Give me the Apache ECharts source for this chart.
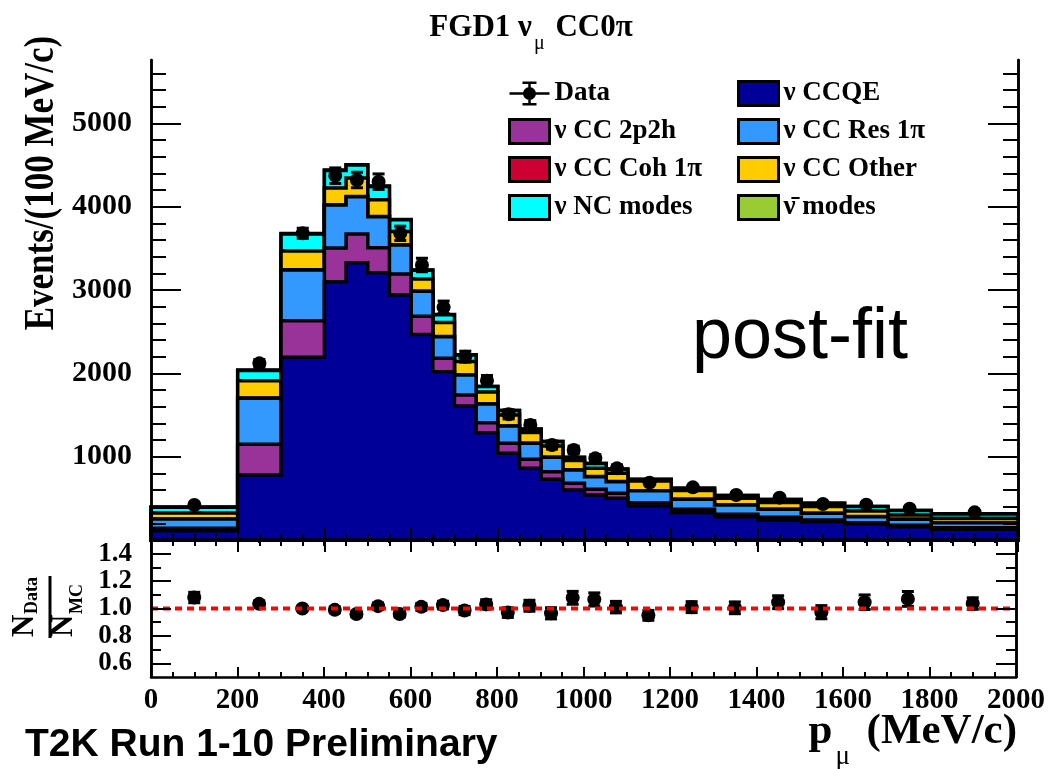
<!DOCTYPE html>
<html>
<head>
<meta charset="utf-8">
<script src="https://cdn.jsdelivr.net/npm/echarts@6/dist/echarts.min.js"></script>
<style>
  html, body { margin: 0; padding: 0; background: #fff; }
  #chart { width: 1048px; height: 769px; }
</style>
</head>
<body>
<div id="chart"></div>
<script>
// bin edges and centres of p_mu (MeV/c)
const binEdges = [0, 200, 300, 400, 450, 500, 550, 600, 650, 700, 750, 800, 850, 900, 950, 1000, 1050, 1100, 1200, 1300, 1400, 1500, 1600, 1700, 1800, 2000];
const binCenters = [100, 250, 350, 425, 475, 525, 575, 625, 675, 725, 775, 825, 875, 925, 975, 1025, 1075, 1150, 1250, 1350, 1450, 1550, 1650, 1750, 1900];

// MC components, events / (100 MeV/c)
const ccqe    = [112, 780, 2192, 3100, 3328, 3208, 2940, 2466, 2020, 1608, 1288, 1040, 860, 728, 600, 540, 500, 408, 328, 280, 240, 220, 192, 160, 128];
const cc2p2h  = [28, 368, 440, 404, 344, 300, 252, 218, 160, 132, 120, 120, 108, 92, 80, 68, 60, 40, 40, 28, 32, 20, 16, 16, 20];
const ccRes   = [112, 552, 608, 516, 448, 372, 348, 300, 260, 240, 224, 208, 192, 172, 160, 152, 140, 142, 120, 112, 96, 80, 72, 72, 60];
const ccCoh   = [1, 3, 4, 3, 3, 3, 2, 2, 2, 1, 1, 1, 1, 1, 1, 1, 1, 1, 1, 1, 1, 1, 1, 1, 1];
const ccOther = [72, 208, 224, 200, 220, 200, 160, 146, 168, 160, 144, 132, 128, 136, 112, 100, 100, 116, 104, 80, 80, 80, 68, 52, 52];
const ncModes = [68, 124, 204, 212, 156, 160, 140, 106, 92, 80, 64, 52, 40, 52, 38, 56, 48, 20, 28, 32, 36, 40, 52, 52, 52];
const antiNu  = [2, 4, 5, 5, 5, 4, 4, 3, 3, 2, 2, 2, 2, 2, 2, 2, 2, 1, 1, 1, 1, 1, 1, 1, 1];

// data and its errors
const dataVals = [420, 2120, 3680, 4372, 4320, 4300, 3680, 3300, 2792, 2200, 1912, 1508, 1380, 1140, 1080, 980, 860, 688, 632, 540, 508, 432, 424, 376, 332];
const dataErrs = [15, 46, 61, 93, 93, 93, 86, 81, 75, 66, 62, 55, 53, 48, 46, 44, 41, 26, 25, 23, 23, 21, 21, 19, 13];

// ratio panel
const ratioVals = [1.08, 1.034, 1.0, 0.99, 0.96, 1.017, 0.96, 1.012, 1.025, 0.985, 1.03, 0.97, 1.02, 0.965, 1.078, 1.066, 1.01, 0.95, 1.01, 1.005, 1.046, 0.973, 1.046, 1.07, 1.036];
const ratioErrs = [0.038, 0.022, 0.017, 0.021, 0.021, 0.022, 0.022, 0.025, 0.028, 0.03, 0.034, 0.035, 0.04, 0.041, 0.047, 0.048, 0.042, 0.036, 0.04, 0.043, 0.047, 0.048, 0.053, 0.054, 0.042];
const unityLine = [[0, 1], [2000, 1]];

// axis ticks
const xMax = 2000;
const yTopMax = 5760;
const yTopMajor = [0, 1000, 2000, 3000, 4000, 5000];
const yTopLabels = [1000, 2000, 3000, 4000, 5000];
const yTopMinor = [200, 400, 600, 800, 1200, 1400, 1600, 1800, 2200, 2400, 2600, 2800, 3200, 3400, 3600, 3800, 4200, 4400, 4600, 4800, 5200, 5400, 5600];
const yRatioMajor = [0.6, 0.8, 1.0, 1.2, 1.4];
const yRatioMinor = [0.7, 0.9, 1.1, 1.3];

const layers = [
  { name: 'ν CCQE', color: '#000099', vals: ccqe },
  { name: 'ν CC 2p2h', color: '#993399', vals: cc2p2h },
  { name: 'ν CC Res 1π', color: '#3399ff', vals: ccRes },
  { name: 'ν CC Coh 1π', color: '#cc0033', vals: ccCoh },
  { name: 'ν CC Other', color: '#ffcc00', vals: ccOther },
  { name: 'ν NC modes', color: '#00ffff', vals: ncModes },
  { name: 'ν̄ modes', color: '#99cc33', vals: antiNu }
];

// stack them up
let running = binCenters.map(() => 0);
layers.forEach(l => {
  running = running.map((r, i) => r + l.vals[i]);
  l.cum = running.slice();
});

const serif = 'Liberation Serif';

function stepRender(cum, color) {
  return function (params, api) {
    const pts = [api.coord([binEdges[0], 0])];
    for (let i = 0; i < cum.length; i++) {
      pts.push(api.coord([binEdges[i], cum[i]]));
      pts.push(api.coord([binEdges[i + 1], cum[i]]));
    }
    pts.push(api.coord([binEdges[binEdges.length - 1], 0]));
    return {
      type: 'polygon',
      shape: { points: pts },
      style: { fill: color, stroke: '#000', lineWidth: 3.5, lineJoin: 'miter' }
    };
  };
}

function errRender(params, api) {
  const x = api.value(0), v = api.value(1), e = api.value(2);
  const top = api.coord([x, v + e]);
  const bot = api.coord([x, v - e]);
  const st = { stroke: '#000', lineWidth: 3 };
  return {
    type: 'group',
    children: [
      { type: 'line', shape: { x1: top[0], y1: top[1], x2: bot[0], y2: bot[1] }, style: st },
      { type: 'line', shape: { x1: top[0] - 6, y1: top[1], x2: top[0] + 6, y2: top[1] }, style: st },
      { type: 'line', shape: { x1: bot[0] - 6, y1: bot[1], x2: bot[0] + 6, y2: bot[1] }, style: st }
    ]
  };
}

const tickLine = { color: '#000', width: 2 };
const frameLine = { show: true, lineStyle: { color: '#000', width: 2.5 } };

function xAx(grid, pos, labels, len, minorLen) {
  return {
    type: 'value', gridIndex: grid, position: pos, min: 0, max: xMax, interval: 200, z: 10,
    axisLine: frameLine,
    axisTick: { show: true, inside: true, length: len, lineStyle: tickLine },
    minorTick: { show: true, splitNumber: 4, length: minorLen, lineStyle: tickLine },
    splitLine: { show: false },
    axisLabel: labels ? {
      show: true, margin: 9, color: '#000', fontFamily: serif, fontWeight: 'bold', fontSize: 29,
      formatter: v => String(v)
    } : { show: false }
  };
}

function yAx(grid, pos, min, max, ticks, len, labels, fontSize) {
  return {
    type: 'value', gridIndex: grid, position: pos, min: min, max: max, z: 10, offset: 0,
    axisLine: frameLine,
    axisTick: { show: true, inside: true, length: len, customValues: ticks, lineStyle: tickLine },
    splitLine: { show: false },
    axisLabel: labels ? {
      show: true, customValues: labels, margin: 19, color: '#000',
      fontFamily: serif, fontWeight: 'bold', fontSize: fontSize,
      formatter: v => max > 10 ? String(Math.round(v)) : v.toFixed(1)
    } : { show: false }
  };
}

const series = [];
// draw the tallest stack first
for (let k = layers.length - 1; k >= 0; k--) {
  const l = layers[k];
  series.push({
    name: l.name, type: 'custom', xAxisIndex: 0, yAxisIndex: 0,
    itemStyle: { color: l.color },
    renderItem: stepRender(l.cum, l.color),
    data: [0]
  });
}
series.push({
  name: 'dataErr', type: 'custom', xAxisIndex: 0, yAxisIndex: 0,
  renderItem: errRender,
  data: binCenters.map((x, i) => [x, dataVals[i], dataErrs[i]])
});
series.push({
  name: 'Data', type: 'scatter', xAxisIndex: 0, yAxisIndex: 0,
  symbolSize: 14, itemStyle: { color: '#000', opacity: 1 },
  data: binCenters.map((x, i) => [x, dataVals[i]])
});
series.push({
  name: 'unity', type: 'line', xAxisIndex: 2, yAxisIndex: 6,
  symbol: 'none', lineStyle: { color: '#ff0000', width: 4, type: [7, 5] },
  data: unityLine
});
series.push({
  name: 'ratioErr', type: 'custom', xAxisIndex: 2, yAxisIndex: 6,
  renderItem: errRender,
  data: binCenters.map((x, i) => [x, ratioVals[i], ratioErrs[i]])
});
series.push({
  name: 'ratio', type: 'scatter', xAxisIndex: 2, yAxisIndex: 6,
  symbolSize: 14, itemStyle: { color: '#000', opacity: 1 },
  data: binCenters.map((x, i) => [x, ratioVals[i]])
});

const dataIcon = 'path://M0,10.75h40v2.5h-40z M18.75,1h2.5v22h-2.5z M13,0h14v2.5h-14z M13,21.5h14v2.5h-14z M13.5,12a6.5,6.5 0 1,1 13,0a6.5,6.5 0 1,1 -13,0z';

const legendCommon = {
  orient: 'vertical', top: 80, padding: 0, itemWidth: 40, itemHeight: 24, itemGap: 11,
  selectedMode: false, icon: 'rect',
  itemStyle: { borderColor: '#000', borderWidth: 3 },
  textStyle: { fontFamily: serif, fontWeight: 'bold', fontSize: 27, color: '#000', lineHeight: 26 }
};

// plain text piece for the graphic layer
function txt(x, y, text, font, align, vAlign) {
  return {
    type: 'text', x: x, y: y,
    style: {
      text: text, fill: '#000', font: font,
      align: align, verticalAlign: vAlign, textAlign: align, textVerticalAlign: vAlign
    }
  };
}

const option = {
  animation: false,
  backgroundColor: '#fff',
  grid: [
    { left: 151, right: 30, top: 60, height: 480 },
    { left: 151, right: 30, top: 540, height: 137 }
  ],
  xAxis: [
    xAx(0, 'bottom', false, 12, 6),
    xAx(0, 'top', false, 12, 6),
    xAx(1, 'bottom', true, 10, 5),
    xAx(1, 'top', false, 6, 3)
  ],
  yAxis: [
    yAx(0, 'left', 0, yTopMax, yTopMajor, 30, yTopLabels, 30),
    yAx(0, 'left', 0, yTopMax, yTopMinor, 15, null),
    yAx(0, 'right', 0, yTopMax, yTopMajor, 30, null),
    yAx(0, 'right', 0, yTopMax, yTopMinor, 15, null),
    yAx(1, 'left', 0.5, 1.5, yRatioMajor, 20, yRatioMajor, 27),
    yAx(1, 'left', 0.5, 1.5, yRatioMinor, 10, null),
    yAx(1, 'right', 0.5, 1.5, yRatioMajor, 20, null),
    yAx(1, 'right', 0.5, 1.5, yRatioMinor, 10, null)
  ],
  legend: [
    Object.assign({}, legendCommon, {
      left: 508,
      data: [{ name: 'Data', icon: dataIcon, itemStyle: { borderWidth: 0, color: '#000' } }, 'ν CC 2p2h', 'ν CC Coh 1π', 'ν NC modes']
    }),
    Object.assign({}, legendCommon, {
      left: 737,
      data: ['ν CCQE', 'ν CC Res 1π', 'ν CC Other', 'ν̄ modes']
    })
  ],
  graphic: [
    {
      type: 'text', x: 531, y: 33, z: 20,
      style: {
        text: '{a|FGD1 ν}{s|μ}{a| CC0π}',
        align: 'center', verticalAlign: 'middle', textAlign: 'center', textVerticalAlign: 'middle',
        rich: {
          a: { fontFamily: serif, fontWeight: 'bold', fontSize: 31, lineHeight: 42, verticalAlign: 'top', fill: '#000' },
          s: { fontFamily: serif, fontSize: 20, lineHeight: 20, padding: [0, 3, 0, 2], verticalAlign: 'bottom', fill: '#000' }
        }
      }
    },
    {
      type: 'text', x: 42, y: 183, rotation: Math.PI / 2, scaleY: 1.2, z: 20,
      style: {
        text: 'Events/(100 MeV/c)', fill: '#000',
        font: 'bold 35px "Liberation Serif"',
        align: 'center', verticalAlign: 'middle', textAlign: 'center', textVerticalAlign: 'middle'
      }
    },
    {
      // N_Data / N_MC, turned to read upwards
      type: 'group', x: 50, y: 607, rotation: Math.PI / 2, z: 20,
      children: [
        txt(-30, -25, 'N', 'bold 31px "Liberation Serif"', 'left', 'middle'),
        txt(-7, -18, 'Data', 'bold 18px "Liberation Serif"', 'left', 'middle'),
        { type: 'rect', shape: { x: -31, y: -1.5, width: 62, height: 3 }, style: { fill: '#000' } },
        txt(-30, 14, 'N', 'bold 31px "Liberation Serif"', 'left', 'middle'),
        txt(-7, 27, 'MC', 'bold 18px "Liberation Serif"', 'left', 'middle')
      ]
    },
    {
      type: 'text', x: 1017, y: 740, z: 20,
      style: {
        text: '{a|p}{s|μ}{a| (MeV/c)}',
        align: 'right', verticalAlign: 'middle', textAlign: 'right', textVerticalAlign: 'middle',
        rich: {
          a: { fontFamily: serif, fontWeight: 'bold', fontSize: 43, lineHeight: 60, verticalAlign: 'top', fill: '#000' },
          s: { fontFamily: serif, fontSize: 27, lineHeight: 27, padding: [0, 6, 0, 3], verticalAlign: 'bottom', fill: '#000' }
        }
      }
    },
    Object.assign(txt(25, 745, 'T2K Run 1-10 Preliminary', 'bold 39px "Liberation Sans"', 'left', 'middle'), { z: 20 }),
    Object.assign(txt(692, 338, 'post-fit', '72px "Liberation Sans"', 'left', 'middle'), { z: 20 })
  ],
  series: series
};

const chart = echarts.init(document.getElementById('chart'), null, { renderer: 'canvas' });
chart.setOption(option);
</script>
</body>
</html>
